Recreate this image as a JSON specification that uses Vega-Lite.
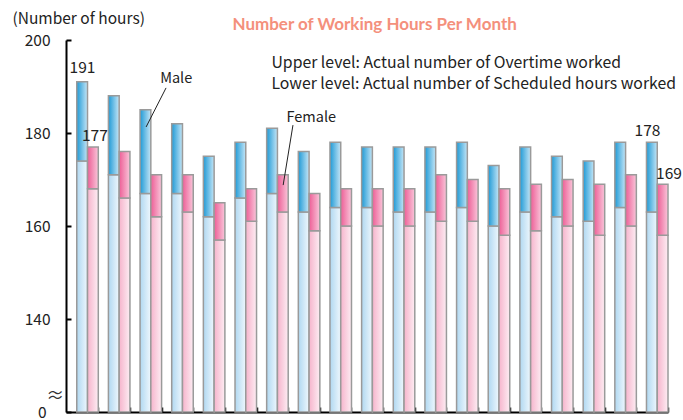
{
  "$schema": "https://vega.github.io/schema/vega-lite/v6.json",
  "width": 602,
  "height": 372,
  "autosize": "none",
  "padding": {"left": 66, "top": 40, "right": 15, "bottom": 8},
  "background": "white",
  "config": {
    "view": {"stroke": null},
    "font": "Noto Sans CJK JP",
    "text": {"font": "Noto Sans CJK JP", "fontSize": 14.5, "color": "#222"}
  },
  "datasets": {
    "hours": [
      {"g": 1, "sex": "Male", "sched": 174, "total": 191},
      {"g": 2, "sex": "Male", "sched": 171, "total": 188},
      {"g": 3, "sex": "Male", "sched": 167, "total": 185},
      {"g": 4, "sex": "Male", "sched": 167, "total": 182},
      {"g": 5, "sex": "Male", "sched": 162, "total": 175},
      {"g": 6, "sex": "Male", "sched": 166, "total": 178},
      {"g": 7, "sex": "Male", "sched": 167, "total": 181},
      {"g": 8, "sex": "Male", "sched": 163, "total": 176},
      {"g": 9, "sex": "Male", "sched": 164, "total": 178},
      {"g": 10, "sex": "Male", "sched": 164, "total": 177},
      {"g": 11, "sex": "Male", "sched": 163, "total": 177},
      {"g": 12, "sex": "Male", "sched": 163, "total": 177},
      {"g": 13, "sex": "Male", "sched": 164, "total": 178},
      {"g": 14, "sex": "Male", "sched": 160, "total": 173},
      {"g": 15, "sex": "Male", "sched": 163, "total": 177},
      {"g": 16, "sex": "Male", "sched": 162, "total": 175},
      {"g": 17, "sex": "Male", "sched": 161, "total": 174},
      {"g": 18, "sex": "Male", "sched": 164, "total": 178},
      {"g": 19, "sex": "Male", "sched": 163, "total": 178},
      {"g": 1, "sex": "Female", "sched": 168, "total": 177},
      {"g": 2, "sex": "Female", "sched": 166, "total": 176},
      {"g": 3, "sex": "Female", "sched": 162, "total": 171},
      {"g": 4, "sex": "Female", "sched": 163, "total": 171},
      {"g": 5, "sex": "Female", "sched": 157, "total": 165},
      {"g": 6, "sex": "Female", "sched": 161, "total": 168},
      {"g": 7, "sex": "Female", "sched": 163, "total": 171},
      {"g": 8, "sex": "Female", "sched": 159, "total": 167},
      {"g": 9, "sex": "Female", "sched": 160, "total": 168},
      {"g": 10, "sex": "Female", "sched": 160, "total": 168},
      {"g": 11, "sex": "Female", "sched": 160, "total": 168},
      {"g": 12, "sex": "Female", "sched": 161, "total": 171},
      {"g": 13, "sex": "Female", "sched": 161, "total": 170},
      {"g": 14, "sex": "Female", "sched": 158, "total": 168},
      {"g": 15, "sex": "Female", "sched": 159, "total": 169},
      {"g": 16, "sex": "Female", "sched": 160, "total": 170},
      {"g": 17, "sex": "Female", "sched": 158, "total": 169},
      {"g": 18, "sex": "Female", "sched": 160, "total": 171},
      {"g": 19, "sex": "Female", "sched": 158, "total": 169}
    ]
  },
  "layer": [
    {
      "data": {"name": "hours"},
      "layer": [
        {
          "transform": [{"filter": "datum.sex === 'Male'"}],
          "mark": {"type": "bar", "stroke": "#9a9a9a", "strokeWidth": 1.5,
            "fill": {"gradient": "linear", "x1": 0, "y1": 0, "x2": 1, "y2": 0, "stops": [{"offset": 0, "color": "#b0d8f1"}, {"offset": 1, "color": "#eef7fd"}]}},
          "encoding": {
            "x": {"field": "g", "type": "ordinal", "scale": {"type": "band", "paddingInner": 0.32, "paddingOuter": 0.17, "align": 1},
              "axis": {"labels": false, "title": null, "domainColor": "#000", "domainWidth": 2, "ticks": true, "tickBand": "extent", "tickSize": -5, "tickColor": "#000", "tickWidth": 1.5}},
            "xOffset": {"field": "sex", "type": "nominal", "scale": {"domain": ["Male", "Female"]}},
            "y": {"field": "sched", "type": "quantitative", "scale": {"domain": [120, 200], "nice": false, "zero": false},
              "axis": {"values": [120, 140, 160, 180, 200], "labelExpr": "datum.value == 120 ? '0' : datum.label",
                "title": "(Number of hours)", "titleAngle": 0, "titleX": -54, "titleY": -22, "titleAlign": "left", "titleBaseline": "middle",
                "titleFontSize": 15.5, "titleFontWeight": "normal", "titleColor": "#222", "titleFont": "Noto Sans CJK JP",
                "grid": false, "domainColor": "#000", "domainWidth": 2, "tickColor": "#000", "tickWidth": 2, "tickSize": -5,
                "labelFontSize": 15.5, "labelColor": "#222",
                "labelPadding": {"condition": {"test": "datum.value == 120", "value": 25}, "value": 21},
                "labelFont": "Noto Sans CJK JP"}},
            "y2": {"datum": 120}
          }
        },
        {
          "transform": [{"filter": "datum.sex === 'Male'"}],
          "mark": {"type": "bar", "stroke": "#9a9a9a", "strokeWidth": 1.5,
            "fill": {"gradient": "linear", "x1": 0, "y1": 0, "x2": 1, "y2": 0, "stops": [{"offset": 0, "color": "#1f9ad6"}, {"offset": 1, "color": "#c4e5f6"}]}},
          "encoding": {
            "x": {"field": "g", "type": "ordinal"},
            "xOffset": {"field": "sex", "type": "nominal", "scale": {"domain": ["Male", "Female"]}},
            "y": {"field": "total", "type": "quantitative", "scale": {"domain": [120, 200], "nice": false, "zero": false}},
            "y2": {"field": "sched"}
          }
        },
        {
          "transform": [{"filter": "datum.sex === 'Female'"}],
          "mark": {"type": "bar", "stroke": "#9a9a9a", "strokeWidth": 1.5,
            "fill": {"gradient": "linear", "x1": 0, "y1": 0, "x2": 1, "y2": 0, "stops": [{"offset": 0, "color": "#f6b4cc"}, {"offset": 1, "color": "#fdedf3"}]}},
          "encoding": {
            "x": {"field": "g", "type": "ordinal"},
            "xOffset": {"field": "sex", "type": "nominal", "scale": {"domain": ["Male", "Female"]}},
            "y": {"field": "sched", "type": "quantitative", "scale": {"domain": [120, 200], "nice": false, "zero": false}},
            "y2": {"datum": 120}
          }
        },
        {
          "transform": [{"filter": "datum.sex === 'Female'"}],
          "mark": {"type": "bar", "stroke": "#9a9a9a", "strokeWidth": 1.5,
            "fill": {"gradient": "linear", "x1": 0, "y1": 0, "x2": 1, "y2": 0, "stops": [{"offset": 0, "color": "#ed5e96"}, {"offset": 1, "color": "#f9c6da"}]}},
          "encoding": {
            "x": {"field": "g", "type": "ordinal"},
            "xOffset": {"field": "sex", "type": "nominal", "scale": {"domain": ["Male", "Female"]}},
            "y": {"field": "total", "type": "quantitative", "scale": {"domain": [120, 200], "nice": false, "zero": false}},
            "y2": {"field": "sched"}
          }
        }
      ]
    },
    {
      "data": {"values": [{}]},
      "layer": [
        {
          "mark": {"type": "rule", "color": "#222", "strokeWidth": 1},
          "encoding": {
            "x": {"datum": 3.48, "type": "quantitative", "scale": {"domain": [0.319, 19.339], "nice": false, "zero": false}, "axis": null},
            "x2": {"datum": 2.85},
            "y": {"datum": 189.7, "type": "quantitative", "scale": {"domain": [120, 200], "nice": false, "zero": false}},
            "y2": {"datum": 181.3}
          }
        },
        {
          "mark": {"type": "rule", "color": "#222", "strokeWidth": 1},
          "encoding": {
            "x": {"datum": 7.49, "type": "quantitative"},
            "x2": {"datum": 7.18},
            "y": {"datum": 181.7, "type": "quantitative"},
            "y2": {"datum": 168.8}
          }
        },
        {
          "mark": {"type": "text", "text": "Male", "align": "center", "baseline": "middle"},
          "encoding": {"x": {"datum": 3.80, "type": "quantitative"}, "y": {"datum": 191.6, "type": "quantitative"}}
        },
        {
          "mark": {"type": "text", "text": "Female", "align": "center", "baseline": "middle"},
          "encoding": {"x": {"datum": 8.07, "type": "quantitative"}, "y": {"datum": 183.3, "type": "quantitative"}}
        },
        {
          "mark": {"type": "text", "text": "191", "align": "center", "baseline": "middle", "fontSize": 15.5},
          "encoding": {"x": {"datum": 0.84, "type": "quantitative"}, "y": {"datum": 193.9, "type": "quantitative"}}
        },
        {
          "mark": {"type": "text", "text": "177", "align": "center", "baseline": "middle", "fontSize": 15.5},
          "encoding": {"x": {"datum": 1.23, "type": "quantitative"}, "y": {"datum": 179.4, "type": "quantitative"}}
        },
        {
          "mark": {"type": "text", "text": "178", "align": "center", "baseline": "middle", "fontSize": 15.5},
          "encoding": {"x": {"datum": 18.69, "type": "quantitative"}, "y": {"datum": 180.5, "type": "quantitative"}}
        },
        {
          "mark": {"type": "text", "text": "169", "align": "center", "baseline": "middle", "fontSize": 15.5},
          "encoding": {"x": {"datum": 19.37, "type": "quantitative"}, "y": {"datum": 171.2, "type": "quantitative"}}
        },
        {
          "mark": {"type": "text", "text": "Upper level: Actual number of Overtime worked", "align": "left", "baseline": "middle", "fontSize": 15.8},
          "encoding": {"x": {"datum": 6.81, "type": "quantitative"}, "y": {"datum": 195.05, "type": "quantitative"}}
        },
        {
          "mark": {"type": "text", "text": "Lower level: Actual number of Scheduled hours worked", "align": "left", "baseline": "middle", "fontSize": 15.8},
          "encoding": {"x": {"datum": 6.81, "type": "quantitative"}, "y": {"datum": 190.5, "type": "quantitative"}}
        },
        {
          "mark": {"type": "text", "text": "Number of Working Hours Per Month", "align": "center", "baseline": "middle", "fontSize": 17, "fontWeight": "bold", "font": "Lato", "color": "#f4907c"},
          "encoding": {"x": {"datum": 10.07, "type": "quantitative"}, "y": {"datum": 203.2, "type": "quantitative"}}
        },
        {
          "mark": {"type": "text", "text": "≈", "align": "center", "baseline": "middle", "fontSize": 18, "color": "#333"},
          "encoding": {"x": {"datum": -0.02, "type": "quantitative"}, "y": {"datum": 123.2, "type": "quantitative"}}
        }
      ]
    }
  ],
  "resolve": {"scale": {"x": "independent"}}
}
